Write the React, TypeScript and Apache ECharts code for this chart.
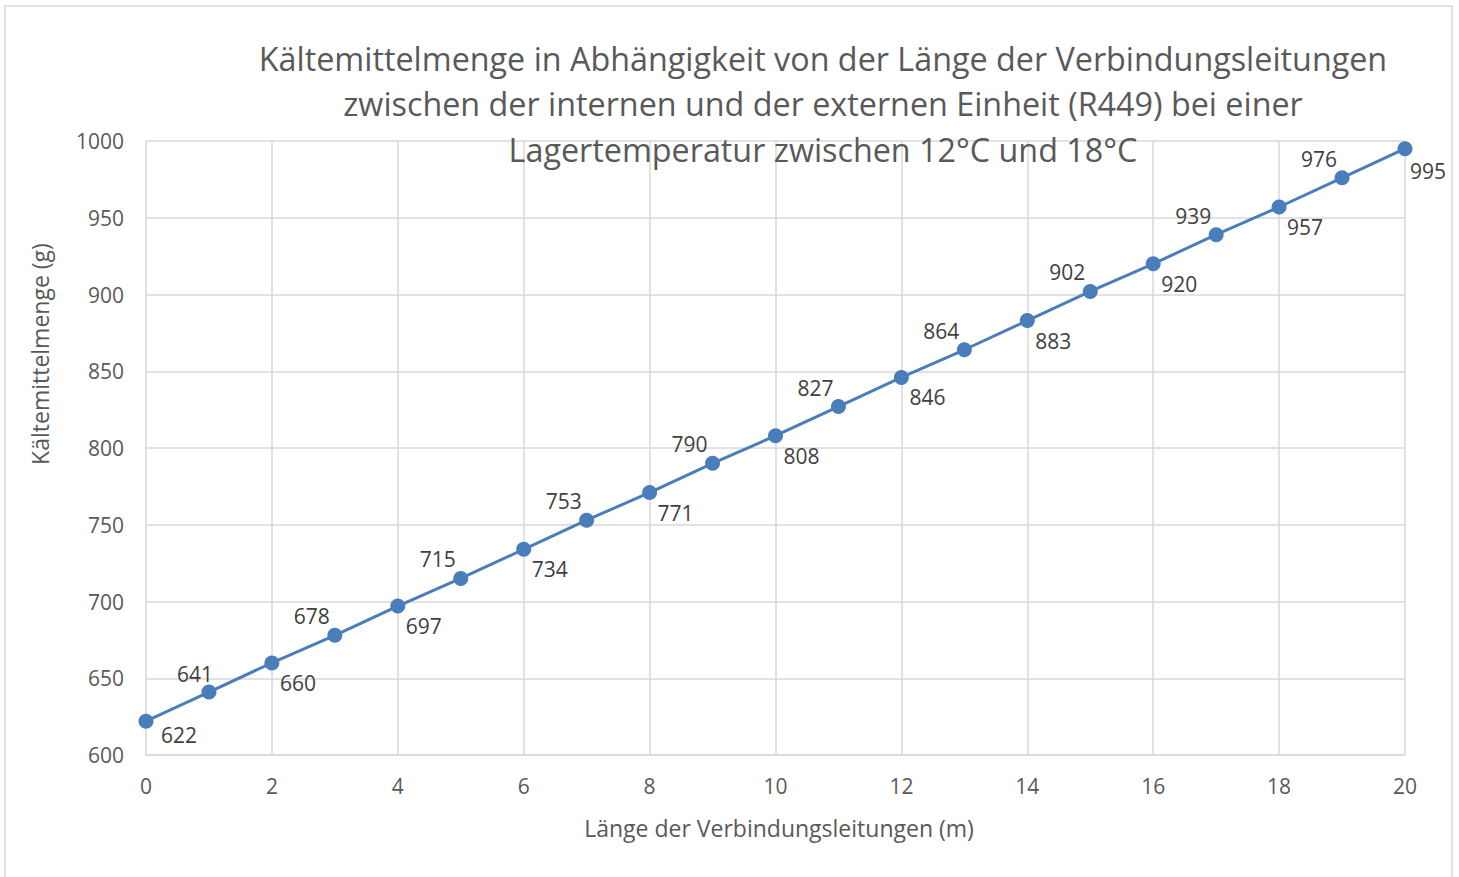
import React, { useEffect, useRef } from "react";
import * as echarts from "echarts";

const lengths = [0, 1, 2, 3, 4, 5, 6, 7, 8, 9, 10, 11, 12, 13, 14, 15, 16, 17, 18, 19, 20];
const amounts = [622, 641, 660, 678, 697, 715, 734, 753, 771, 790, 808, 827, 846, 864, 883, 902, 920, 939, 957, 976, 995];
const titleLines = [
  "Kältemittelmenge in Abhängigkeit von der Länge der Verbindungsleitungen",
  "zwischen der internen und der externen Einheit (R449) bei einer",
  "Lagertemperatur zwischen 12°C und 18°C",
];
const xName = "Länge der Verbindungsleitungen (m)";
const yName = "Kältemittelmenge (g)";

const FONT = "'Open Sans', 'Noto Sans', sans-serif";
const GREY = "#595959";

export default function App() {
  const ref = useRef<HTMLDivElement>(null);
  useEffect(() => {
    if (!ref.current) return;
    const chart = echarts.init(ref.current, undefined, { renderer: "svg" });
    const data = lengths.map((x, i) => {
      const even = i % 2 === 0;
      let offset = even ? [26, 20] : [-23, -19];
      if (i === 0) offset = [33, 14];
      if (i === 1) offset = [-14, -18];
      if (i === 20) offset = [23, 22];
      return {
        value: [x, amounts[i]],
        label: { offset },
      };
    });
    chart.setOption({
      animation: false,
      backgroundColor: "#ffffff",
      title: {
        text: titleLines.join("\n"),
        left: 818,
        top: 30,
        textAlign: "center",
        textStyle: {
          fontFamily: FONT,
          fontSize: 32.3,
          fontWeight: "normal",
          color: GREY,
          lineHeight: 45.5,
        },
      },
      grid: { left: 146, right: 54, top: 141, bottom: 122, containLabel: false },
      xAxis: {
        type: "value",
        min: 0,
        max: 20,
        interval: 2,
        axisLine: { show: true, lineStyle: { color: "#d9d9d9", width: 1.5 } },
        axisTick: { show: false },
        axisLabel: { fontFamily: FONT, fontSize: 21, color: GREY, margin: 20 },
        splitLine: { show: true, lineStyle: { color: "#d9d9d9", width: 1.5 } },
      },
      yAxis: {
        type: "value",
        min: 600,
        max: 1000,
        interval: 50,
        axisLine: { show: false },
        axisTick: { show: false },
        axisLabel: {
          fontFamily: FONT,
          fontSize: 21,
          color: GREY,
          margin: 22,
          formatter: (v: number) => String(v),
        },
        splitLine: { show: true, lineStyle: { color: "#d9d9d9", width: 1.5 } },
      },
      series: [
        {
          type: "line",
          data,
          symbol: "circle",
          symbolSize: 15,
          lineStyle: { color: "#4a7ebb", width: 3 },
          itemStyle: { color: "#4a7ebb" },
          label: {
            show: true,
            position: "inside",
            align: "center",
            verticalAlign: "middle",
            fontFamily: FONT,
            fontSize: 21,
            color: "#404040",
            formatter: (p: any) => String(p.value[1]),
          },
          z: 3,
        },
      ],
      graphic: [
        {
          type: "rect",
          shape: { x: 5, y: 6, width: 1447, height: 880 },
          style: { fill: "none", stroke: "#d9d9d9", lineWidth: 1.5 },
          silent: true,
          z: -1,
        },
        {
          type: "text",
          x: 779,
          y: 828,
          style: {
            text: xName,
            fontFamily: FONT,
            fontSize: 23,
            fill: GREY,
            align: "center",
            verticalAlign: "middle",
          },
        },
        {
          type: "text",
          x: 40,
          y: 354,
          rotation: Math.PI / 2,
          style: {
            text: yName,
            fontFamily: FONT,
            fontSize: 23,
            fill: GREY,
            align: "center",
            verticalAlign: "middle",
          },
        },
      ],
    });
    return () => chart.dispose();
  }, []);
  return (
    <div
      ref={ref}
      style={{ position: "absolute", left: 0, top: 0, width: 1459, height: 877 }}
    />
  );
}
